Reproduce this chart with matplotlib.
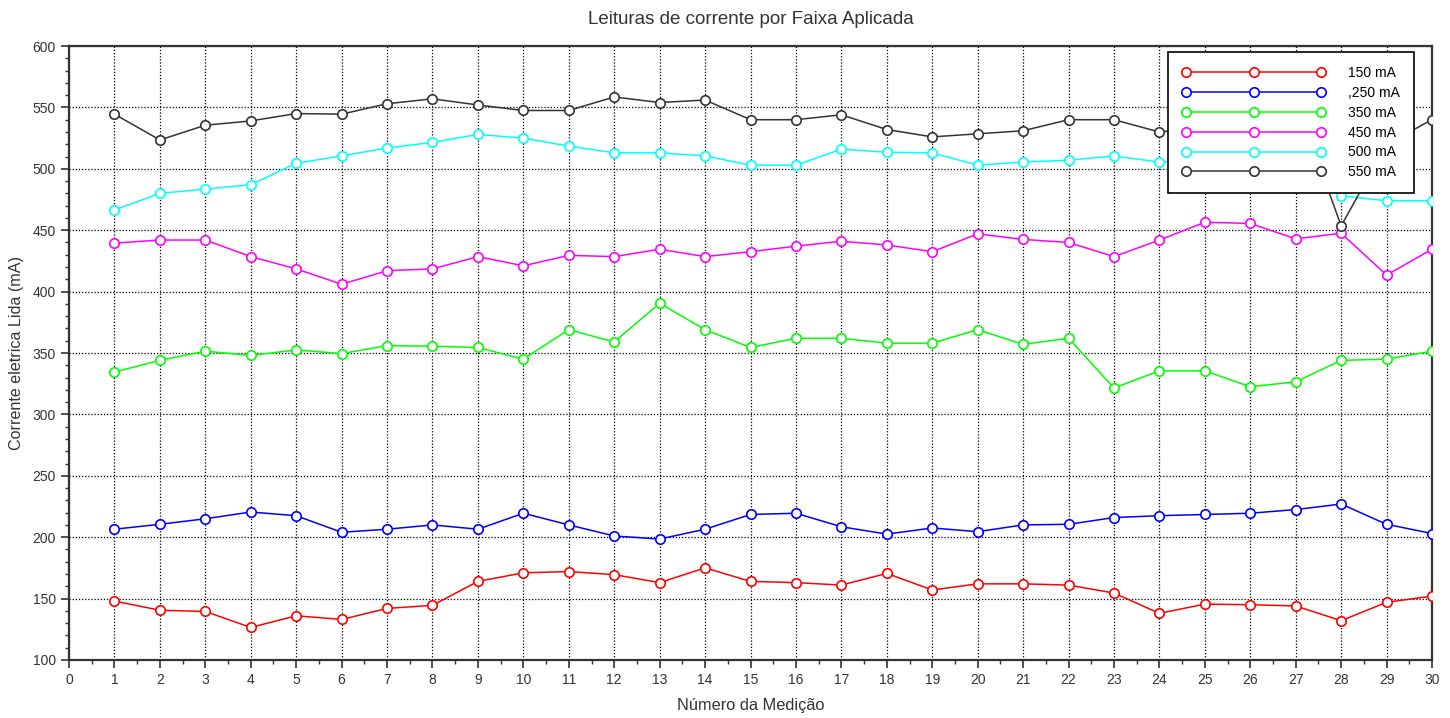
import numpy as np
import matplotlib.pyplot as plt
from matplotlib.ticker import MultipleLocator

plt.rcParams['font.family'] = ['Liberation Sans', 'DejaVu Sans']

# Measurement index
medicao = list(range(1, 31))

# Current read for each applied range (mA)
i150 = [148, 140.5, 139.5, 126.5, 136, 133, 142, 144.5, 164, 171,
        172, 169.5, 163, 175, 164, 163, 161, 170.5, 157, 162,
        162, 161, 154.5, 138, 145.5, 145, 144, 132, 147, 152]
i250 = [206.5, 210.5, 215, 220.5, 217.5, 204, 206.5, 210, 206.5, 219.5,
        210, 201, 198.5, 206.5, 218.5, 219.5, 208.5, 202.5, 207.5, 204.5,
        210, 210.5, 216, 217.5, 218.5, 219.5, 222.5, 227, 210.5, 203]
i350 = [334.5, 344, 351.5, 348, 352.5, 349.5, 356, 355.5, 354.5, 345,
        369, 359, 390.5, 369, 354.5, 362, 362, 358, 358, 369,
        357, 362, 321.5, 335.5, 335.5, 322.5, 326.5, 344, 345, 351.5]
i450 = [439.5, 442, 442, 428.5, 418.5, 406, 417, 418.5, 428.5, 421,
        429.5, 428.5, 434.5, 428.5, 432.5, 437, 441, 438, 432.5, 447,
        442.5, 440, 428.5, 442, 456.5, 455.5, 443, 447.5, 413.5, 434.5]
i500 = [466.5, 480, 483.5, 487, 504.5, 510.5, 517, 521.5, 528, 525,
        518.5, 513, 513, 510.5, 503, 503, 516, 513.5, 513, 503,
        505.5, 507, 510.5, 505.5, 507, 504, 501, 478, 474, 474]
i550 = [544.5, 523.5, 535.5, 539, 545, 544.5, 553, 557, 552, 547.5,
        547.5, 558.5, 554, 556, 540, 540, 544, 532, 526, 528.5,
        531, 540, 540, 530, 534, 537, 556, 453.5, 520, 540]

series = [i150, i250, i350, i450, i500, i550]
labels = ['150 mA', ',250 mA', '350 mA', '450 mA', '500 mA', '550 mA']
colors = ['#ff0000', '#0000ff', '#00ff00', '#ff00ff', '#00ffff', '#333333']

fig = plt.figure(figsize=(14.5, 7.18), dpi=100)
ax = fig.add_axes([0.0476, 0.0808, 0.94, 0.8551])

for y, lab, c in zip(series, labels, colors):
    ax.plot(medicao, y, '-o', color=c, lw=1.1, ms=6.8, mfc='white',
            mec=c, mew=1.2, label=lab, zorder=3)

ax.set_xlim(0, 30)
ax.set_ylim(100, 600)
ax.xaxis.set_major_locator(MultipleLocator(1))
ax.xaxis.set_minor_locator(MultipleLocator(0.5))
ax.yaxis.set_major_locator(MultipleLocator(50))
ax.yaxis.set_minor_locator(MultipleLocator(10))
ax.tick_params(which='major', direction='out', length=6, width=1.2,
               colors='#333333', labelsize=10, labelcolor='#333333')
ax.tick_params(which='minor', direction='out', length=3, width=1.0,
               colors='#333333')
ax.grid(which='major', color='black', linestyle=(0, (1, 1.5)), lw=0.9)
for s in ax.spines.values():
    s.set_color('#333333')
    s.set_linewidth(1.6)

ax.set_title('Leituras de corrente por Faixa Aplicada', fontsize=13.5,
             color='#333333', pad=16)
ax.set_xlabel('Número da Medição', fontsize=11.8, color='#333333', labelpad=8)
ax.set_ylabel('Corrente eletrica Lida (mA)', fontsize=11.6, color='#333333',
              labelpad=6)

leg = ax.legend(loc='upper right', bbox_to_anchor=(0.9868, 0.990),
                borderaxespad=0, numpoints=3, fontsize=10, fancybox=False,
                framealpha=1, edgecolor='black', handlelength=10.3,
                handletextpad=1.65, labelspacing=0.42, borderpad=1.0)
leg.get_frame().set_linewidth(1.2)
leg.set_zorder(5)

fig.savefig('out.png', dpi=100)
